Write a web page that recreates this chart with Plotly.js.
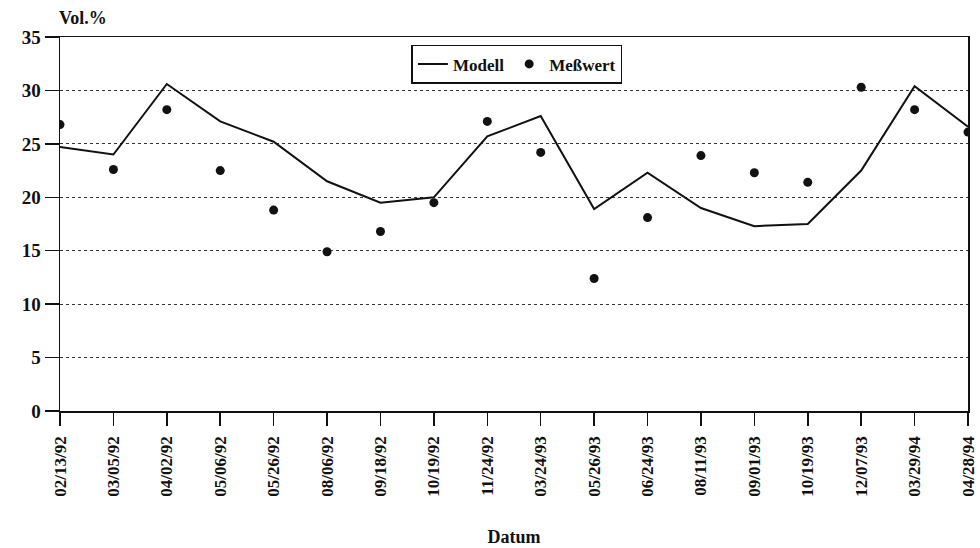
<!DOCTYPE html>
<html><head><meta charset="utf-8">
<script src="https://cdn.plot.ly/plotly-3.0.1.min.js"></script>
<style>body{margin:0;background:#fff}#c{width:980px;height:548px}</style>
</head><body><div id="c"></div>
<script>
const dates = ["02/13/92","03/05/92","04/02/92","05/06/92","05/26/92","08/06/92","09/18/92","10/19/92","11/24/92","03/24/93","05/26/93","06/24/93","08/11/93","09/01/93","10/19/93","12/07/93","03/29/94","04/28/94"];
const modell = [24.7,24.0,30.6,27.1,25.2,21.5,19.5,20.0,25.7,27.6,18.9,22.3,19.0,17.3,17.5,22.5,30.4,26.6];
const messwert = [26.8,22.6,28.2,22.5,18.8,14.9,16.8,19.5,27.1,24.2,12.4,18.1,23.9,22.3,21.4,30.3,28.2,26.1];
const yTicks = [0,5,10,15,20,25,30,35];

const font = {family:"Liberation Serif, Times New Roman, serif", color:"#111"};
const traces = [
  {x:dates, y:modell, name:"Modell", type:"scatter", mode:"lines", line:{color:"#111", width:2}},
  {x:dates, y:messwert, name:"Meßwert", type:"scatter", mode:"markers", marker:{color:"#111", size:9}}
];
const layout = {
  width:980, height:548,
  margin:{l:60, r:12, t:37, b:137},
  paper_bgcolor:"#fff", plot_bgcolor:"#fff",
  font:font,
  showlegend:true,
  legend:{orientation:"h", x:0.387, y:0.979, xanchor:"left", yanchor:"top",
    bordercolor:"#111", borderwidth:1.5, bgcolor:"#fff",
    font:{family:font.family, size:17, color:"#111", weight:"bold"},
    itemwidth:30, tracegroupgap:0},
  xaxis:{type:"category", range:[0,17], showgrid:false, zeroline:false,
    showline:true, linecolor:"#111", linewidth:1.5, mirror:true,
    ticks:"outside", ticklen:13, tickcolor:"#111", tickwidth:1.5, ticklabelstandoff:4,
    tickangle:-90, tickfont:{family:font.family, size:17, color:"#111", weight:"bold"},
    title:{text:"Datum", font:{family:font.family, size:18, color:"#111", weight:"bold"}, standoff:34}},
  yaxis:{range:[0,35], tickvals:yTicks, showgrid:true, gridcolor:"#333", griddash:"dot", gridwidth:1,
    zeroline:false, showline:true, linecolor:"#111", linewidth:1.5, mirror:true,
    ticks:"outside", ticklen:14, tickcolor:"#111", tickwidth:1.5,
    tickfont:{family:font.family, size:19, color:"#111", weight:"bold"}},
  annotations:[{text:"Vol.%", xref:"paper", yref:"paper", x:0, y:1, xshift:-3, yshift:7,
    xanchor:"left", yanchor:"bottom", showarrow:false,
    font:{family:font.family, size:18, color:"#111", weight:"bold"}}]
};
Plotly.newPlot("c", traces, layout, {displayModeBar:false, staticPlot:true});
</script></body></html>
